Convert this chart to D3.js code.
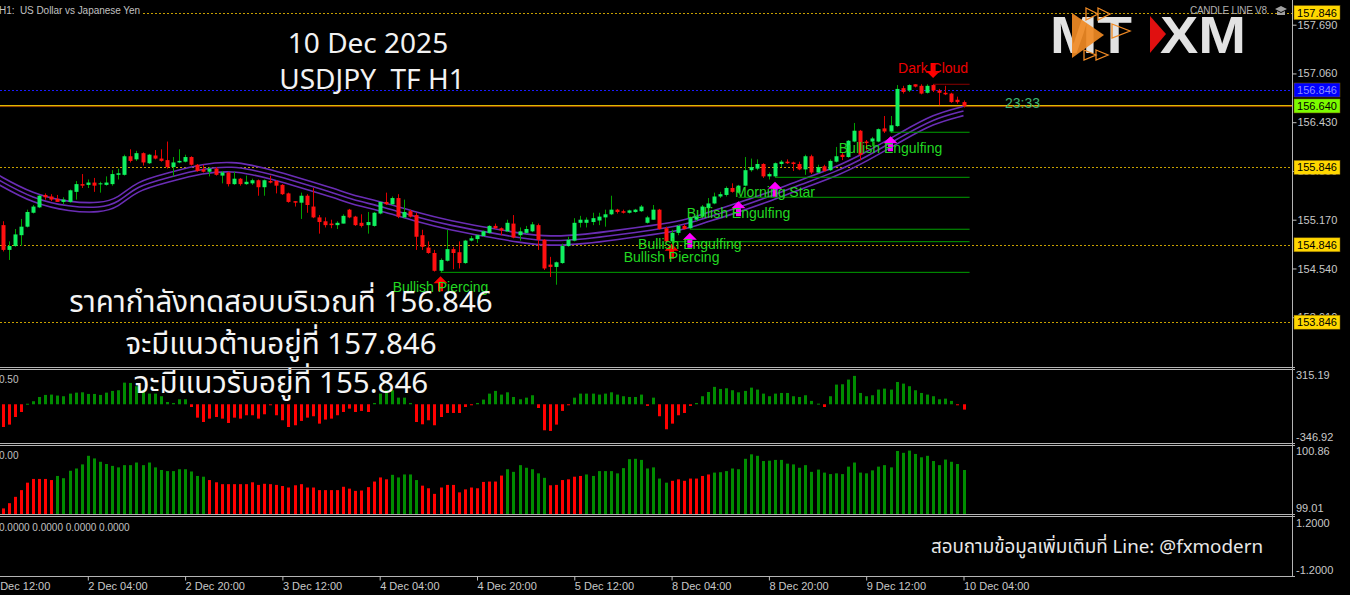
<!DOCTYPE html>
<html><head><meta charset="utf-8">
<script src="https://cdn.jsdelivr.net/npm/d3@7"></script>
<style>body{margin:0;background:#000;overflow:hidden}svg{display:block}text{white-space:pre}</style>
</head><body><svg id="c" width="1350" height="595"></svg>
<script>
// ---------------- DATA ----------------
const firstBar = 2; // bar index (0 = 1 Dec 12:00) of first visible candle
const opens = [155.10,154.78,154.83,154.97,155.08,155.26,155.33,155.49,155.47,155.44,
155.40,155.40,155.53,155.63,155.62,155.65,155.63,155.62,155.63,155.75,
155.75,155.99,155.95,156.03,155.90,156.00,155.96,155.94,155.85,155.91,
155.92,155.98,155.88,155.82,155.79,155.83,155.74,155.78,155.63,155.70,
155.63,155.64,155.68,155.59,155.67,155.67,155.62,155.51,155.41,155.39,
155.48,155.34,155.20,155.15,155.12,155.10,155.12,155.30,155.21,155.13,
155.10,155.09,155.25,155.40,155.37,155.45,155.20,155.28,155.23,154.97,
154.81,154.74,154.51,154.64,154.79,154.75,154.61,154.90,154.92,154.96,
155.00,155.09,155.06,155.02,155.12,154.97,155.00,155.02,155.10,154.91,
154.59,154.56,154.61,154.83,154.90,155.13,155.13,155.14,155.16,155.20,
155.24,155.30,155.28,155.26,155.27,155.28,155.13,155.17,155.30,155.06,
154.89,155.00,155.09,155.06,155.17,155.21,155.32,155.38,155.47,155.49,
155.58,155.52,155.61,155.81,155.83,155.89,155.73,155.73,155.89,155.92,
155.91,155.89,155.82,155.99,155.78,155.86,155.81,155.92,156.01,155.98,
156.18,156.32,156.18,156.18,156.18,156.35,156.31,156.38,156.87,156.84,
156.92,156.90,156.81,156.91,156.84,156.81,156.80,156.72,156.69];
const highs = [155.15,154.89,155.05,155.18,155.30,155.36,155.49,155.51,155.50,155.49,
155.46,155.56,155.67,155.76,155.69,155.71,155.66,155.73,155.81,155.83,
156.01,156.08,156.06,156.04,156.02,156.07,156.08,156.18,155.98,156.08,
156.01,155.99,155.89,155.88,155.85,155.85,155.80,155.79,155.79,155.71,
155.74,155.70,155.69,155.69,155.74,155.68,155.63,155.52,155.41,155.52,
155.50,155.58,155.23,155.20,155.17,155.15,155.24,155.31,155.22,155.24,
155.27,155.27,155.40,155.52,155.47,155.50,155.43,155.30,155.26,155.04,
154.89,154.78,154.67,155.04,154.82,154.89,154.91,154.96,154.98,155.03,
155.10,155.12,155.07,155.17,155.23,155.07,155.09,155.14,155.12,154.92,
154.69,154.63,154.86,154.95,155.19,155.22,155.20,155.26,155.26,155.30,
155.48,155.31,155.30,155.30,155.31,155.36,155.22,155.36,155.31,155.08,
155.04,155.10,155.11,155.21,155.23,155.36,155.45,155.52,155.53,155.60,
155.64,155.62,155.98,155.96,155.95,155.90,155.78,155.91,155.94,155.95,
155.92,155.92,156.01,156.01,155.88,155.88,155.95,156.11,156.04,156.20,
156.42,156.33,156.20,156.24,156.35,156.51,156.51,156.91,156.90,156.92,
156.92,156.92,156.92,156.92,156.86,156.90,156.81,156.76,156.71];
const lows = [154.76,154.65,154.82,154.83,155.07,155.25,155.32,155.43,155.41,155.40,
155.37,155.39,155.43,155.58,155.58,155.53,155.52,155.61,155.61,155.69,
155.74,155.91,155.93,155.87,155.89,155.95,155.92,155.83,155.73,155.90,
155.91,155.87,155.79,155.78,155.73,155.74,155.64,155.60,155.62,155.61,
155.62,155.62,155.48,155.48,155.64,155.51,155.49,155.39,155.34,155.18,
155.26,155.19,154.99,155.07,155.06,155.05,155.12,155.19,155.09,155.07,
154.99,155.08,155.24,155.36,155.36,155.19,155.19,155.20,154.78,154.78,
154.73,154.50,154.49,154.63,154.53,154.54,154.60,154.89,154.87,154.95,
154.99,155.05,154.97,155.01,154.93,154.90,154.99,155.01,154.78,154.52,
154.43,154.33,154.60,154.82,154.89,155.07,155.07,155.10,155.10,155.08,
155.23,155.25,155.25,155.25,155.26,155.27,155.12,155.17,155.04,154.87,
154.86,154.97,155.04,155.05,155.15,155.20,155.31,155.37,155.45,155.47,
155.52,155.51,155.60,155.79,155.81,155.71,155.69,155.72,155.85,155.89,
155.80,155.81,155.75,155.76,155.77,155.79,155.80,155.91,155.94,155.97,
156.17,155.94,156.07,156.12,156.17,156.29,156.29,156.37,156.80,156.82,
156.88,156.79,156.80,156.82,156.65,156.78,156.68,156.67,156.62];
const closes = [154.78,154.83,154.98,155.08,155.27,155.34,155.48,155.46,155.43,155.40,
155.43,155.55,155.63,155.61,155.65,155.61,155.64,155.65,155.76,155.77,
155.99,155.93,156.03,155.91,156.01,155.96,155.93,155.85,155.91,155.93,
155.98,155.88,155.80,155.79,155.83,155.75,155.78,155.63,155.70,155.63,
155.66,155.68,155.59,155.68,155.65,155.61,155.50,155.40,155.39,155.48,
155.36,155.20,155.14,155.10,155.10,155.13,155.22,155.20,155.10,155.09,
155.14,155.26,155.40,155.37,155.45,155.21,155.27,155.21,154.95,154.82,
154.74,154.51,154.65,154.79,154.74,154.61,154.90,154.93,154.97,155.02,
155.09,155.06,155.03,155.13,154.94,155.02,155.05,155.11,154.91,154.54,
154.56,154.62,154.83,154.91,155.13,155.17,155.17,155.19,155.21,155.24,
155.30,155.27,155.26,155.29,155.30,155.34,155.20,155.30,155.05,154.89,
155.00,155.09,155.05,155.19,155.21,155.34,155.38,155.47,155.50,155.58,
155.53,155.61,155.81,155.85,155.89,155.73,155.76,155.90,155.92,155.90,
155.89,155.82,155.99,155.78,155.85,155.80,155.93,155.99,155.98,156.19,
156.32,156.01,156.16,156.22,156.34,156.31,156.39,156.86,156.82,156.91,
156.89,156.80,156.90,156.84,156.81,156.79,156.69,156.69,156.64];

// moving-average band (middle line read at sample bars, 1-based candle numbers)
const maBar = [0,6,12,17,20,23,28,34,39,42,45,50,56,58,64,69,75,80,86,91,97,102,108,113,116,121,127,132,138,143,149,154,159];
const maMid = [155.70,155.438,155.335,155.322,155.386,155.606,155.709,155.838,155.858,155.813,155.761,155.645,155.503,155.438,155.328,155.205,155.089,155.018,154.934,154.889,154.921,154.973,155.037,155.102,155.180,155.302,155.464,155.619,155.787,155.981,156.252,156.472,156.575];

// oscillator histogram
const oscValues = [-209,-187,-117,-71,5,28,67,86,89,80,
74,98,107,110,95,95,86,107,123,129,
199,196,166,129,98,98,74,21,12,46,
46,-25,-123,-163,-132,-117,-132,-172,-123,-132,
-101,-101,-132,-92,-9,-101,-147,-209,-193,-153,
-123,-110,-178,-141,-132,-101,-71,-40,-71,-61,
-71,12,98,129,129,61,61,12,-163,-184,
-147,-193,-117,-80,-80,-80,-25,-5,12,43,
98,123,89,110,67,46,61,83,-34,-239,
-245,-187,-61,-6,61,98,98,98,89,98,
110,89,74,67,67,89,-15,61,-110,-230,
-178,-101,-80,-15,12,74,113,160,141,147,
129,110,123,153,135,98,74,98,104,104,
74,67,83,31,6,-25,74,181,184,227,
261,104,74,83,135,144,135,205,190,166,
129,104,89,74,46,52,31,-6,-49];

// second histogram
const volValues = [99.16,99.30,99.47,99.65,99.85,99.95,99.95,99.95,99.92,100.03,
99.97,100.17,100.23,100.34,100.57,100.50,100.41,100.35,100.30,100.26,
100.32,100.32,100.39,100.32,100.39,100.26,100.19,100.16,100.16,100.21,
100.21,100.15,100.03,100.01,99.92,99.86,99.81,99.81,99.81,99.81,
99.81,99.86,99.79,99.82,99.81,99.79,99.76,99.72,99.78,99.81,
99.72,99.72,99.65,99.65,99.65,99.65,99.74,99.69,99.63,99.64,
99.73,99.88,99.99,99.94,100.06,99.99,100.07,100.07,99.92,99.77,
99.70,99.55,99.72,99.79,99.79,99.59,99.67,99.72,99.70,99.87,
99.88,99.88,100.04,100.21,100.14,100.32,100.25,100.21,100.10,99.98,
99.78,99.79,99.92,99.94,100.01,100.03,100.07,100.03,100.16,100.16,
100.16,100.10,100.24,100.48,100.49,100.46,100.23,100.26,99.96,99.85,
99.90,99.94,99.90,99.96,99.96,100.03,100.07,100.12,100.13,100.16,
100.23,100.21,100.49,100.61,100.57,100.43,100.44,100.46,100.46,100.36,
100.34,100.25,100.32,100.14,100.20,100.12,100.08,100.10,100.08,100.28,
100.39,100.12,100.10,100.18,100.28,100.32,100.26,100.70,100.65,100.71,
100.62,100.53,100.57,100.43,100.32,100.47,100.41,100.35,100.19];
const volDir = "ddddddddduuuuuuuuuuuuuuuuuuuuuuuuudddddddddddddddddddddddddddddduuuuudddddddddddddduuuuuuudddddduuuuuuuuuuuuuuddddddduuuuuuuuuuuuuuuuuuuuuuuuuuuuuuuuuuuuuuuuuuuu";

// time axis
const tickBars = [0,16,32,48,64,80,96,112,128,144,160];
const tickLabels = ["1 Dec 12:00","2 Dec 04:00","2 Dec 20:00","3 Dec 12:00","4 Dec 04:00","4 Dec 20:00","5 Dec 12:00","8 Dec 04:00","8 Dec 20:00","9 Dec 12:00","10 Dec 04:00"];
const priceTicks = [157.690,157.060,156.430,155.800,155.170,154.540,153.910];

// levels
const srLevels = [157.846,155.846,154.846,153.846];
const testLevel = 156.846;
const currentPrice = 156.640;
const timerText = "23:33";

// candle patterns (candle numbers are 1-based)
const patBar = [73,111,114,122,128,147,154];
const patName = ["Bullish Piercing","Bullish Piercing","Bullish Engulfing","Bullish Engulfing","Morning Star","Bullish Engulfing","Dark Cloud"];
const patArrow = [154.44,154.86,155.00,155.41,155.66,156.25,157.00];
const patText = [154.30,154.69,154.86,155.26,155.53,156.10,157.13];
const patLine = [154.49,154.886,155.047,155.46,155.718,156.30,156.92];
const patLineEnd = 161;

// texts
const titleLines = ["10 Dec 2025","USDJPY  TF H1"];
const thaiLines = ["ราคากำลังทดสอบบริเวณที่ 156.846","จะมีแนวต้านอยู่ที่ 157.846","จะมีแนวรับอยู่ที่ 155.846"];
const contactText = "สอบถามข้อมูลเพิ่มเติมที่ Line: @fxmodern";

// ---------------- DRAW ----------------
const W = 1350, H = 595, AX = 1292;
const svg = d3.select("#c");
svg.append("rect").attr("width", W).attr("height", H).attr("fill", "#000");

const x = d3.scaleLinear().domain([0,160]).range([-9.5,963.5]);
const bx = k => x(k - 1 + firstBar);  // candle number -> x
const yMain = d3.scaleLinear().domain([153.254,158.009]).range([368,0]);
const yOsc = d3.scaleLinear().domain([-346.92,315.19]).range([442,370]);
const yVol = d3.scaleLinear().domain([99.01,100.86]).range([514,445]);
const yP4 = d3.scaleLinear().domain([-1.2,1.2]).range([570,523]);

const sans = "'Liberation Sans', Arial, sans-serif";
const thaiFont = "'Noto Sans Thai','Noto Sans','Open Sans','DejaVu Sans',sans-serif";

svg.append("defs").append("clipPath").attr("id","mainClip")
  .append("rect").attr("x",0).attr("y",0).attr("width",AX).attr("height",366);

const main = svg.append("g").attr("clip-path","url(#mainClip)");

// level lines
srLevels.forEach(p => {
  main.append("line").attr("x1", p===157.846 ? 143 : 0).attr("x2", AX)
    .attr("y1", Math.round(yMain(p))+0.5).attr("y2", Math.round(yMain(p))+0.5)
    .attr("stroke","#c8a000").attr("stroke-dasharray","2,2");
});
main.append("line").attr("x1",0).attr("x2",AX)
  .attr("y1",Math.round(yMain(testLevel))+0.5).attr("y2",Math.round(yMain(testLevel))+0.5)
  .attr("stroke","#1a1aff").attr("stroke-dasharray","2,2");
const cpY = Math.round(yMain(currentPrice));
main.append("line").attr("x1",0).attr("x2",AX).attr("y1",cpY+0.6).attr("y2",cpY+0.6)
  .attr("stroke","#a02800").attr("stroke-width",0.8);
main.append("line").attr("x1",0).attr("x2",AX).attr("y1",cpY-0.4).attr("y2",cpY-0.4)
  .attr("stroke","#e0b800").attr("stroke-width",1.1);

// MA band
const maPts = maBar.map((b,i)=>[bx(b), maMid[i]]);
[-0.06, 0, 0.06].forEach(off => {
  main.append("path")
    .attr("d", d3.line().x(d=>d[0]).y(d=>yMain(d[1]+off)).curve(d3.curveBasis)(maPts))
    .attr("fill","none").attr("stroke","#6a2db5").attr("stroke-width",1.6);
});

// pattern lines
patBar.forEach((b,i) => {
  const bear = patName[i].startsWith("Dark");
  main.append("line").attr("x1",bx(b)).attr("x2",x(patLineEnd))
    .attr("y1",yMain(patLine[i])).attr("y2",yMain(patLine[i]))
    .attr("stroke", bear ? "#8b0000" : "#00a000").attr("stroke-width",1);
});

// candles
const cg = main.append("g");
opens.forEach((o,j) => {
  const k = j+1, c = closes[j], up = c >= o;
  const cx = Math.round(bx(k));
  cg.append("line").attr("x1",cx+0.5).attr("x2",cx+0.5)
    .attr("y1",yMain(highs[j])).attr("y2",yMain(lows[j]))
    .attr("stroke", up ? "#00a000" : "#e00000").attr("stroke-width",1);
  const y1 = yMain(Math.max(o,c)), y2 = yMain(Math.min(o,c));
  cg.append("rect").attr("x",cx-1.5).attr("width",4)
    .attr("y",y1).attr("height",Math.max(1,y2-y1))
    .attr("fill", up ? "#10f060" : "#ff1010");
});

// pattern arrows & labels
patBar.forEach((b,i) => {
  const cx = bx(b), name = patName[i];
  const bear = name.startsWith("Dark");
  const red = bear || name.includes("Piercing");
  const t = yMain(patArrow[i]);
  const d = bear
    ? `M${cx},${t} L${cx+7},${t-7} L${cx+2.5},${t-7} L${cx+2.5},${t-15} L${cx-2.5},${t-15} L${cx-2.5},${t-7} L${cx-7},${t-7} Z`
    : `M${cx},${t} L${cx+7},${t+7} L${cx+2.5},${t+7} L${cx+2.5},${t+15} L${cx-2.5},${t+15} L${cx-2.5},${t+7} L${cx-7},${t+7} Z`;
  main.append("path").attr("d",d).attr("fill", red ? "#ff0000" : "#ff00ff");
  main.append("text").attr("x",cx).attr("y",yMain(patText[i]))
    .attr("text-anchor","middle").attr("dominant-baseline","central")
    .attr("font-family",sans).attr("font-size",14)
    .attr("fill", bear ? "#ee0000" : "#22d822").text(name);
});

// timer
main.append("text").attr("x",1005).attr("y",cpY-3).attr("dominant-baseline","central")
  .attr("font-family",sans).attr("font-size",14).attr("fill","#3cb371").text(timerText);

// top-left info
svg.append("text").attr("x",-1).attr("y",10).attr("dominant-baseline","central")
  .attr("font-family",sans).attr("font-size",10).attr("fill","#c0c0c0")
  .attr("textLength",141).text("H1:  US Dollar vs Japanese Yen");
svg.append("text").attr("x",1190).attr("y",10).attr("dominant-baseline","central")
  .attr("font-family",sans).attr("font-size",10).attr("fill","#b0b0b0")
  .attr("textLength",77).text("CANDLE LINE V8");
svg.append("path").attr("d","M1275,9 L1281,6 L1287,9 L1281,12 Z M1277,11 L1277,15 L1285,15 L1285,11 L1281,13 Z")
  .attr("fill","#a0a0a0");

// logo
const logo = svg.append("g");
logo.append("text").attr("x",1050).attr("y",53).attr("font-family",sans).attr("font-weight",900)
  .attr("font-size",52).attr("fill","#e2e2e2").attr("textLength",82).attr("lengthAdjust","spacingAndGlyphs").text("MT");
logo.append("path").attr("d","M1072,13 L1104,35 L1072,58 Z").attr("fill","#f08a24").attr("opacity",0.92);
logo.append("path").attr("d","M1086,8 L1098,14 L1086,20 Z M1098,8 L1110,14 L1098,20 Z M1112,24 L1130,31 L1112,38 Z M1084,50 L1096,55 L1084,60 Z M1096,50 L1108,55 L1096,60 Z")
  .attr("fill","none").attr("stroke","#f08a24").attr("stroke-width",1.3);
logo.append("path").attr("d","M1150,16 L1166,34 L1150,53 Z").attr("fill","#e01010");
logo.append("text").attr("x",1160).attr("y",53).attr("font-family",sans).attr("font-weight",900)
  .attr("font-size",52).attr("fill","#e2e2e2").attr("textLength",86).attr("lengthAdjust","spacingAndGlyphs").text("XM");

// titles
titleLines.forEach((t,i) => {
  svg.append("text").attr("x",[368,372][i]).attr("y",[42,78][i]).attr("text-anchor","middle")
    .attr("dominant-baseline","central").attr("font-family","'Noto Sans','Open Sans',sans-serif")
    .attr("font-size",28).attr("fill","#f2f2f2").text(t);
});

// panels (histograms)
const og = svg.append("g");
oscValues.forEach((v,j) => {
  const cx = Math.round(bx(j+1));
  const y0 = yOsc(0), y1 = yOsc(v);
  og.append("rect").attr("x",cx-1).attr("width",3)
    .attr("y",Math.min(y0,y1)).attr("height",Math.max(1,Math.abs(y1-y0)))
    .attr("fill", v >= 0 ? "#008c00" : "#ff0000");
});
const vg = svg.append("g");
volValues.forEach((v,j) => {
  const cx = Math.round(bx(j+1));
  vg.append("rect").attr("x",cx-1).attr("width",3)
    .attr("y",yVol(v)).attr("height",yVol(99.01)-yVol(v))
    .attr("fill", volDir[j]==="u" ? "#008c00" : "#ff0000");
});

// Thai texts (drawn over panels)
thaiLines.forEach((t,i) => {
  svg.append("text").attr("x",281).attr("y",[303,345,384][i]).attr("text-anchor","middle")
    .attr("dominant-baseline","central").attr("font-family",thaiFont)
    .attr("font-size",29.5).attr("fill","#f4f4f4").text(t);
});
svg.append("text").attr("x",1263).attr("y",547).attr("text-anchor","end")
  .attr("dominant-baseline","central").attr("font-family",thaiFont)
  .attr("font-size",18.8).attr("fill","#e8e8e8").text(contactText);

// separators
[367,369,443,445,514,516,576].forEach(yy => {
  svg.append("line").attr("x1",0).attr("x2",AX+3).attr("y1",yy+0.5).attr("y2",yy+0.5)
    .attr("stroke","#b4b4b4").attr("stroke-width",1);
});
svg.append("line").attr("x1",AX+0.5).attr("x2",AX+0.5).attr("y1",0).attr("y2",577)
  .attr("stroke","#b4b4b4");

// price axis
const pa = svg.append("g").attr("transform",`translate(${AX+0.5},0)`)
  .call(d3.axisRight(yMain).tickValues(priceTicks).tickFormat(d3.format(".3f")).tickSize(4).tickSizeOuter(0).tickPadding(1));
pa.select(".domain").remove();
pa.selectAll("line").attr("stroke","#c0c0c0");
pa.selectAll("text").attr("font-family",sans).attr("font-size",11).attr("fill","#c8c8c8");

// level labels on axis
function priceTag(p, bg, fg) {
  const yy = yMain(p);
  svg.append("rect").attr("x",AX+2).attr("y",yy-7).attr("width",46).attr("height",14)
    .attr("fill",bg).attr("stroke","#806000").attr("stroke-width",0.5);
  svg.append("text").attr("x",AX+25).attr("y",yy).attr("text-anchor","middle").attr("dominant-baseline","central")
    .attr("font-family",sans).attr("font-size",11).attr("fill",fg).text(d3.format(".3f")(p));
}
srLevels.forEach(p => priceTag(p,"#ffd700","#000"));
priceTag(testLevel,"#0000ff","#8c8cff");
priceTag(currentPrice,"#7cfc00","#000");

// panel scale labels
function sideLabel(txt, yy) {
  svg.append("text").attr("x",AX+4).attr("y",yy).attr("dominant-baseline","central")
    .attr("font-family",sans).attr("font-size",11).attr("fill","#c8c8c8").text(txt);
}
sideLabel("315.19", yOsc(315.19)+5);
sideLabel("-346.92", yOsc(-346.92)-5);
sideLabel("100.86", yVol(100.86)+6);
sideLabel("99.01", yVol(99.01)-6);
sideLabel("1.2000", yP4(1.2));
sideLabel("-1.2000", yP4(-1.2));
function leftLabel(txt, yy) {
  svg.append("text").attr("x",-1).attr("y",yy).attr("dominant-baseline","central")
    .attr("font-family",sans).attr("font-size",10).attr("fill","#c0c0c0").text(txt);
}
leftLabel("0.50", 379);
leftLabel("0.00", 455);
leftLabel("0.0000 0.0000 0.0000 0.0000", 527);

// time axis
const ta = svg.append("g").attr("transform","translate(0,576.5)")
  .call(d3.axisBottom(x).tickValues(tickBars).tickFormat((d,i)=>tickLabels[i]).tickSize(4).tickSizeOuter(0));
ta.select(".domain").remove();
ta.selectAll("line").attr("stroke","#c0c0c0");
ta.selectAll("text").attr("text-anchor","start").attr("x",0).attr("dy","0.32em").attr("y",9.5)
  .attr("font-family",sans).attr("font-size",11).attr("fill","#c8c8c8");
</script></body></html>
